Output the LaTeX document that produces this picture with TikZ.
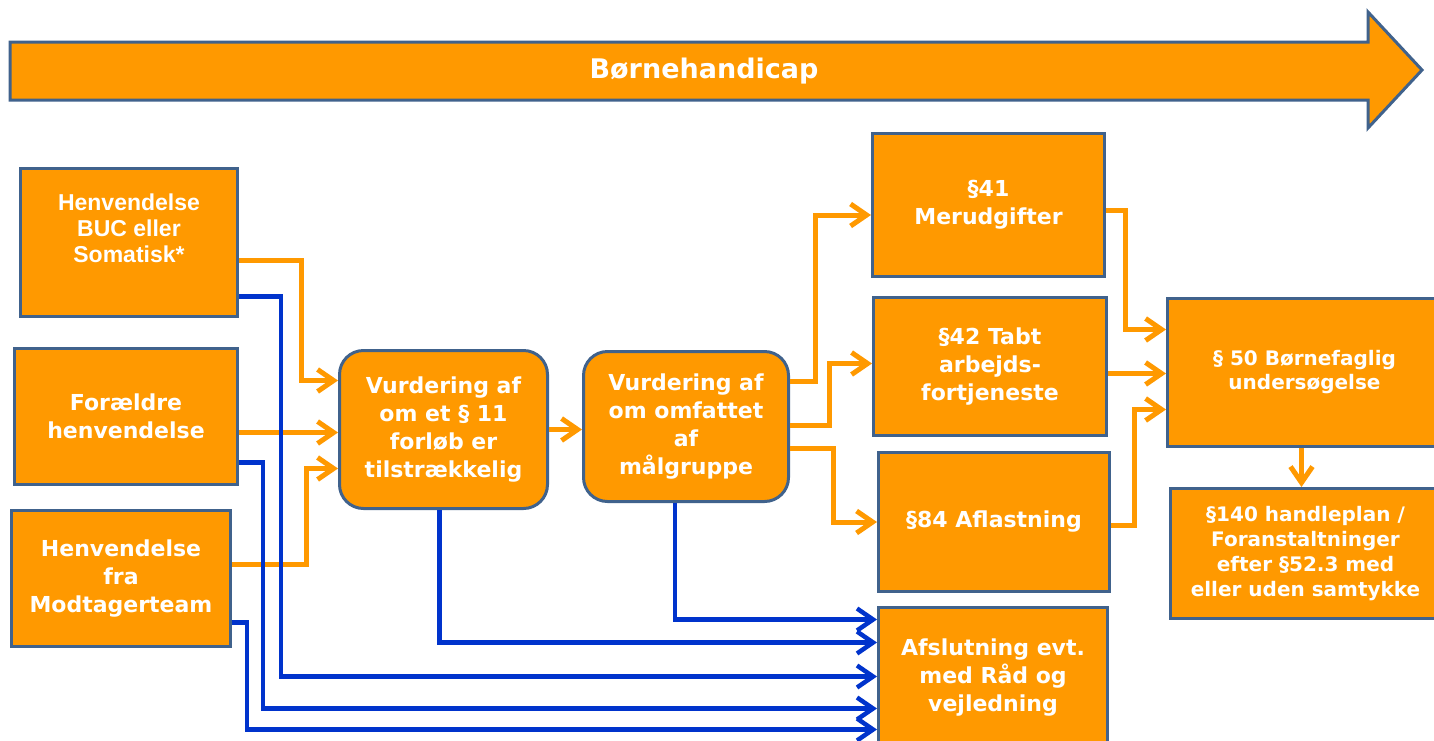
\documentclass[tikz,border=0pt]{standalone}
\usepackage{fontspec}
\setmainfont{DejaVu Sans}
\newfontfamily\arialf{Liberation Sans}
\usetikzlibrary{arrows.meta,calc}
\definecolor{org}{RGB}{255,153,0}
\definecolor{edgec}{RGB}{64,98,140}
\definecolor{blu}{RGB}{0,51,204}
\begin{document}
\begin{tikzpicture}[x=1pt,y=-1pt,
  box/.style={draw=edgec, line width=3pt, fill=org, text=white,
    font=\bfseries\fontsize{22}{28}\selectfont, align=center, inner sep=0pt, anchor=north west},
  rbox/.style={box, rounded corners=24pt},
  txt/.style={text=white, align=center, inner sep=0pt},
  oarr/.style={draw=org, line width=5pt, -{Straight Barb[length=16pt,width=22pt]}},
  barr/.style={draw=blu, line width=4.5pt, -{Straight Barb[length=16pt,width=22pt]}}
]
\useasboundingbox[fill=white] (0,0) rectangle (1434,740);

% title arrow
\draw[draw=edgec, line width=3pt, fill=org, line join=miter]
  (10,42) -- (1368,42) -- (1368,12) -- (1422,70) -- (1368,128) -- (1368,100) -- (10,100) -- cycle;
\node[txt, font=\bfseries\fontsize{27}{32}\selectfont] (title) at (704,71) {Børnehandicap};

% boxes
\node[box, minimum width=217pt, minimum height=148pt] (b1) at (19,167) {};
\node[txt, font=\arialf\bfseries\fontsize{23}{26}\selectfont] (b1t) at ($(b1.center)+(0,-14)$) {Henvendelse\\BUC eller\\Somatisk*};
\node[box, minimum width=223pt, minimum height=136pt] (b2) at (13,347) {Forældre\\henvendelse};
\node[box, minimum width=219pt, minimum height=136pt] (b3) at (10,509) {Henvendelse\\fra\\Modtagerteam};
\node[rbox, minimum width=208pt, minimum height=158pt] (b4) at (338,349) {Vurdering af\\om et § 11\\forløb er\\tilstrækkelig};
\node[rbox, minimum width=205pt, minimum height=150pt] (b5) at (582,350) {Vurdering af\\om omfattet\\af\\målgruppe};
\node[box, minimum width=232pt, minimum height=143pt] (b6) at (871,132) {§41\\Merudgifter};
\node[box, minimum width=233pt, minimum height=138pt] (b7) at (872,296) {§42 Tabt\\arbejds-\\fortjeneste};
\node[box, minimum width=231pt, minimum height=139pt] (b8) at (877,451) {§84 Aflastning};
\node[box, minimum width=274pt, minimum height=148pt, font=\bfseries\fontsize{20}{24}\selectfont] (b9) at (1166,297) {§ 50 Børnefaglig\\undersøgelse};
\node[box, minimum width=270pt, minimum height=130pt, font=\bfseries\fontsize{20}{25}\selectfont] (b10) at (1169,487) {§140 handleplan /\\Foranstaltninger\\efter §52.3 med\\eller uden samtykke};
\node[box, minimum width=229pt, minimum height=140pt] (b11) at (877,606) {Afslutning evt.\\med Råd og\\vejledning};

% orange connectors
\draw[oarr] ([yshift=-18pt]b1.east) -- ++(62,0) |- ([yshift=49pt]b4.west);
\draw[oarr] ([yshift=-16pt]b2.east) -- ([yshift=-16pt]b2.east -| b4.west);
\draw[oarr] ([yshift=14pt]b3.east) -- ++(74,0) |- ([yshift=-39pt]b4.west);
\draw[oarr] (b4.east) -- (b4.east -| b5.west);
\draw[oarr] ([yshift=45pt]b5.east) -- ++(25,0) |- ([yshift=-10pt]b6.west);
\draw[oarr] ([yshift=1pt]b5.east) -- ++(39,0) |- ([yshift=3pt]b7.west);
\draw[oarr] ([yshift=-22pt]b5.east) -- ++(43,0) |- (b8.west);
\draw[oarr] ([yshift=-5pt]b6.east) -- ++(19,0) |- ([yshift=43pt]b9.west);
\draw[oarr] ([yshift=-7pt]b7.east) -- ([yshift=-7pt]b7.east -| b9.west);
\draw[oarr] ([yshift=-3pt]b8.east) -- ++(23,0) |- ([yshift=-37pt]b9.west);
\draw[oarr] ([xshift=-3pt]b9.south) -- ([xshift=-3pt]b9.south |- b10.north);

% blue connectors
\draw[barr] ([yshift=-54pt]b1.east) -- ++(42,0) |- ([yshift=1pt]b11.west);
\draw[barr] ([yshift=-46pt]b2.east) -- ++(24,0) |- ([yshift=-31pt]b11.west);
\draw[barr] ([yshift=-44pt]b3.east) -- ++(15,0) |- ([yshift=-52pt]b11.west);
\draw[barr] ([xshift=-4pt]b4.south) |- ([yshift=35pt]b11.west);
\draw[barr] ([xshift=-11pt]b5.south) |- ([yshift=58pt]b11.west);
\end{tikzpicture}
\end{document}
